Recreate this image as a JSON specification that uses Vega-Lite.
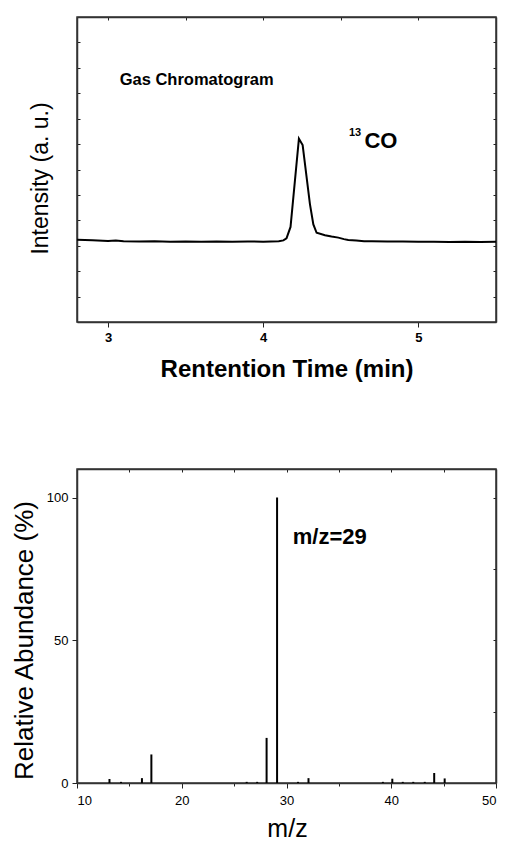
{
  "$schema": "https://vega.github.io/schema/vega-lite/v6.json",
  "background": "white",
  "padding": {"left": 10, "top": 15, "right": 5, "bottom": 4},
  "spacing": 85,
  "config": {
    "view": {"stroke": "#333333", "strokeWidth": 1.5},
    "font": "Liberation Sans",
    "axis": {"grid": false, "domainColor": "#333333", "domainWidth": 1.5, "tickColor": "#222222", "tickWidth": 1, "labelColor": "black", "titleColor": "black", "labelFont": "Liberation Sans", "titleFont": "Liberation Sans"}
  },
  "vconcat": [
    {
      "width": 419,
      "height": 305,
      "layer": [
        {
          "data": {"values": [
            {"t": 2.80, "v": 3.24}, {"t": 2.90, "v": 3.22}, {"t": 3.00, "v": 3.19}, {"t": 3.05, "v": 3.21},
            {"t": 3.10, "v": 3.18}, {"t": 3.20, "v": 3.17}, {"t": 3.30, "v": 3.18}, {"t": 3.40, "v": 3.16},
            {"t": 3.50, "v": 3.17}, {"t": 3.60, "v": 3.16}, {"t": 3.70, "v": 3.17}, {"t": 3.80, "v": 3.16},
            {"t": 3.90, "v": 3.17}, {"t": 4.00, "v": 3.16}, {"t": 4.05, "v": 3.17}, {"t": 4.10, "v": 3.18},
            {"t": 4.13, "v": 3.21}, {"t": 4.15, "v": 3.29}, {"t": 4.176, "v": 3.74}, {"t": 4.230, "v": 7.21},
            {"t": 4.254, "v": 6.96}, {"t": 4.301, "v": 4.64}, {"t": 4.323, "v": 3.84}, {"t": 4.344, "v": 3.51},
            {"t": 4.398, "v": 3.41}, {"t": 4.44, "v": 3.36}, {"t": 4.484, "v": 3.32}, {"t": 4.52, "v": 3.26},
            {"t": 4.548, "v": 3.23}, {"t": 4.60, "v": 3.21}, {"t": 4.65, "v": 3.18}, {"t": 4.70, "v": 3.18},
            {"t": 4.80, "v": 3.17}, {"t": 4.90, "v": 3.17}, {"t": 5.00, "v": 3.16}, {"t": 5.10, "v": 3.16},
            {"t": 5.20, "v": 3.15}, {"t": 5.30, "v": 3.16}, {"t": 5.40, "v": 3.15}, {"t": 5.50, "v": 3.16}
          ]},
          "mark": {"type": "line", "color": "black", "strokeWidth": 2},
          "encoding": {
            "x": {"field": "t", "type": "quantitative", "scale": {"domain": [2.8, 5.5], "nice": false, "zero": false},
              "axis": {"orient": "bottom", "values": [3, 3.5, 4, 4.5, 5], "format": "d",
                "labelExpr": "datum.value % 1 === 0 ? datum.label : ''",
                "tickSize": {"condition": {"test": "datum.value % 1 === 0", "value": 5}, "value": 3},
                "labelFontWeight": "bold", "labelFontSize": 13, "labelPadding": 4,
                "title": "Rentention Time (min)", "titleFontWeight": "bold", "titleFontSize": 24,
                "titleX": 209.5, "titleY": 54, "titleBaseline": "alphabetic", "titleAlign": "center"}},
            "y": {"field": "v", "type": "quantitative", "scale": {"domain": [0, 12], "nice": false},
              "axis": {"orient": "left", "values": [1, 2, 3, 4, 5, 6, 7, 8, 9, 10, 11], "labels": false, "tickSize": -3,
                "title": "Intensity (a. u.)", "titleFontWeight": "normal", "titleFontSize": 23,
                "titleX": -30, "titleY": 161, "titleBaseline": "alphabetic", "titleAlign": "center", "titleAngle": -90}}
          }
        },
        {
          "data": {"values": [{"t": 3.075, "v": 9.32, "label": "Gas Chromatogram"}]},
          "mark": {"type": "text", "font": "Liberation Sans", "fontWeight": "bold", "fontSize": 16.5, "align": "left", "baseline": "alphabetic", "color": "black"},
          "encoding": {
            "x": {"field": "t", "type": "quantitative", "scale": {"domain": [2.8, 5.5], "nice": false, "zero": false},
              "axis": {"orient": "top", "values": [3, 3.5, 4, 4.5, 5], "labels": false, "tickSize": -3, "title": null}},
            "y": {"field": "v", "type": "quantitative", "scale": {"domain": [0, 12], "nice": false},
              "axis": {"orient": "right", "values": [1, 2, 3, 4, 5, 6, 7, 8, 9, 10, 11], "labels": false, "tickSize": -3, "title": null}},
            "text": {"field": "label"}
          }
        },
        {
          "data": {"values": [{"t": 4.552, "v": 7.33, "label": "13"}]},
          "mark": {"type": "text", "font": "Liberation Sans", "fontWeight": "bold", "fontSize": 11, "align": "left", "baseline": "alphabetic", "color": "black"},
          "encoding": {
            "x": {"field": "t", "type": "quantitative", "scale": {"domain": [2.8, 5.5], "nice": false, "zero": false}, "axis": null},
            "y": {"field": "v", "type": "quantitative", "scale": {"domain": [0, 12], "nice": false}, "axis": null},
            "text": {"field": "label"}
          }
        },
        {
          "data": {"values": [{"t": 4.652, "v": 6.83, "label": "CO"}]},
          "mark": {"type": "text", "font": "Liberation Sans", "fontWeight": "bold", "fontSize": 22, "align": "left", "baseline": "alphabetic", "color": "black"},
          "encoding": {
            "x": {"field": "t", "type": "quantitative", "scale": {"domain": [2.8, 5.5], "nice": false, "zero": false}, "axis": null},
            "y": {"field": "v", "type": "quantitative", "scale": {"domain": [0, 12], "nice": false}, "axis": null},
            "text": {"field": "label"}
          }
        }
      ],
      "resolve": {"axis": {"x": "independent", "y": "independent"}}
    },
    {
      "width": 419,
      "height": 314,
      "layer": [
        {
          "data": {"values": [
            {"mz": 13.1, "ab": 1.4}, {"mz": 14.2, "ab": 0.4}, {"mz": 16.2, "ab": 1.7}, {"mz": 17.1, "ab": 10.0},
            {"mz": 26.2, "ab": 0.4}, {"mz": 27.2, "ab": 0.4}, {"mz": 28.1, "ab": 15.8}, {"mz": 29.1, "ab": 100.0},
            {"mz": 31.1, "ab": 0.4}, {"mz": 32.1, "ab": 1.7}, {"mz": 39.2, "ab": 0.4}, {"mz": 40.1, "ab": 1.5},
            {"mz": 41.1, "ab": 0.4}, {"mz": 42.1, "ab": 0.4}, {"mz": 43.2, "ab": 0.4}, {"mz": 44.1, "ab": 3.5},
            {"mz": 45.1, "ab": 1.6}
          ]},
          "mark": {"type": "rule", "color": "black", "strokeWidth": 2},
          "encoding": {
            "x": {"field": "mz", "type": "quantitative", "scale": {"domain": [10, 50], "nice": false, "zero": false},
              "axis": {"orient": "bottom", "values": [10, 15, 20, 25, 30, 35, 40, 45, 50], "format": "d",
                "labelExpr": "datum.value % 10 === 0 ? datum.label : ''",
                "tickSize": {"condition": {"test": "datum.value % 10 === 0", "value": 5}, "value": 3},
                "labelFontWeight": "normal", "labelFontSize": 13, "labelPadding": 6,
                "title": "m/z", "titleFontWeight": "normal", "titleFontSize": 25,
                "titleX": 210, "titleY": 53, "titleBaseline": "alphabetic", "titleAlign": "center"}},
            "y": {"field": "ab", "type": "quantitative", "scale": {"domain": [0, 110], "nice": false},
              "axis": {"orient": "left", "values": [0, 50, 100], "format": "d", "tickSize": 5, "labelPadding": 4,
                "labelFontWeight": "normal", "labelFontSize": 13,
                "title": "Relative Abundance (%)", "titleFontWeight": "normal", "titleFontSize": 26,
                "titleX": -45, "titleY": 171, "titleBaseline": "alphabetic", "titleAlign": "center", "titleAngle": -90}},
            "y2": {"datum": 0}
          }
        },
        {
          "data": {"values": [{"mz": 30.6, "ab": 83.6, "label": "m/z=29"}]},
          "mark": {"type": "text", "font": "Liberation Sans", "fontWeight": "bold", "fontSize": 22, "align": "left", "baseline": "alphabetic", "color": "black"},
          "encoding": {
            "x": {"field": "mz", "type": "quantitative", "scale": {"domain": [10, 50], "nice": false, "zero": false},
              "axis": {"orient": "top", "values": [15, 20, 25, 30, 35, 40, 45], "labels": false, "tickSize": -3, "title": null}},
            "y": {"field": "ab", "type": "quantitative", "scale": {"domain": [0, 110], "nice": false},
              "axis": {"orient": "right", "values": [25, 50, 75, 100], "labels": false, "tickSize": -3, "title": null}},
            "text": {"field": "label"}
          }
        }
      ],
      "resolve": {"axis": {"x": "independent", "y": "independent"}}
    }
  ]
}
